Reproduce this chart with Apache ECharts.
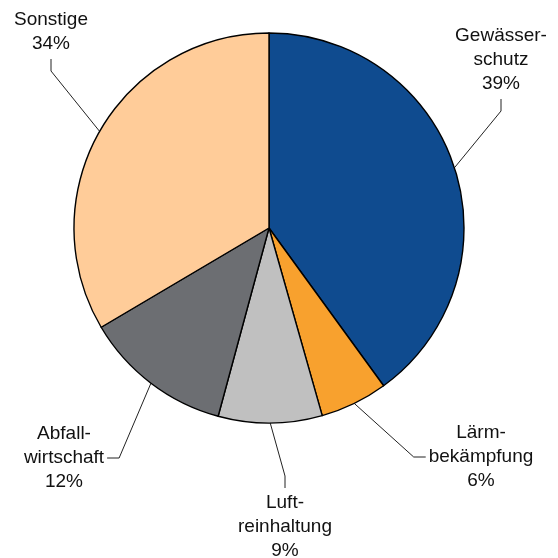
<!DOCTYPE html>
<html lang="de">

<head>
    <meta charset="UTF-8">
    <title>Anteile</title>
    <script src="https://cdn.jsdelivr.net/npm/echarts@6/dist/echarts.min.js"></script>
    <style>
        html, body { margin: 0; padding: 0; background: #fff; }
        #PieChart { width: 558px; height: 558px; }
    </style>
</head>

<body onload="setup()">
    <div id="PieChart"></div>
    <script>
        // categories, clockwise from the top
        var categories = ['Gewässer-\nschutz', 'Lärm-\nbekämpfung', 'Luft-\nreinhaltung', 'Abfall-\nwirtschaft', 'Sonstige']
        // slice sizes as they are drawn
        var values = [40.0, 5.6, 8.6, 12.3, 33.5]
        // percentages as printed on the labels
        var shares = ['39%', '6%', '9%', '12%', '34%']
        var colors = ['#0f4b8f', '#f8a12e', '#c0c0c0', '#6c6e72', '#ffcc99']

        // label centre and the side its leader line leaves from
        var labelPos = [
            [501, 60, 'bottom'],
            [481, 457, 'left'],
            [285, 527, 'top'],
            [64, 458, 'right'],
            [51, 32, 'bottom']
        ]
        var stub = 12

        var PieChart

        function setup() {
            PieChart = echarts.init(document.getElementById('PieChart'))
            PieChart.setOption(pieOption, true)
        }

        function placeLabel(p) {
            var pos = labelPos[p.dataIndex]
            var x = pos[0], y = pos[1]
            var hw = p.labelRect.width / 2, hh = p.labelRect.height / 2
            var start = p.labelLinePoints ? p.labelLinePoints[0] : [x, y]
            var end, bend
            if (pos[2] == 'bottom') { end = [x, y + hh]; bend = [x, y + hh + stub] }
            if (pos[2] == 'top') { end = [x, y - hh]; bend = [x, y - hh - stub] }
            if (pos[2] == 'left') { end = [x - hw, y]; bend = [x - hw - stub, y] }
            if (pos[2] == 'right') { end = [x + hw, y]; bend = [x + hw + stub, y] }
            return {
                x: x,
                y: y,
                align: 'center',
                verticalAlign: 'middle',
                labelLinePoints: [start, bend, end]
            }
        }

        var pieData = categories.map(function (c, i) {
            return { name: c, value: values[i], itemStyle: { color: colors[i] } }
        })

        var pieOption = {
            animation: false,
            series: [{
                type: 'pie',
                center: [269, 228],
                radius: 195,
                startAngle: 90,
                clockwise: true,
                avoidLabelOverlap: false,
                itemStyle: { borderColor: '#000', borderWidth: 1.4 },
                emphasis: { disabled: true },
                label: {
                    show: true,
                    position: 'outside',
                    formatter: function (p) {
                        return p.name + '\n' + shares[p.dataIndex]
                    },
                    fontFamily: 'Liberation Sans, Arial, sans-serif',
                    fontSize: 19,
                    lineHeight: 24,
                    color: '#111',
                    padding: 3
                },
                labelLine: {
                    show: true,
                    length: 20,
                    length2: 10,
                    lineStyle: { color: '#222', width: 1 }
                },
                labelLayout: placeLabel,
                data: pieData
            }]
        }
    </script>
</body>

</html>
